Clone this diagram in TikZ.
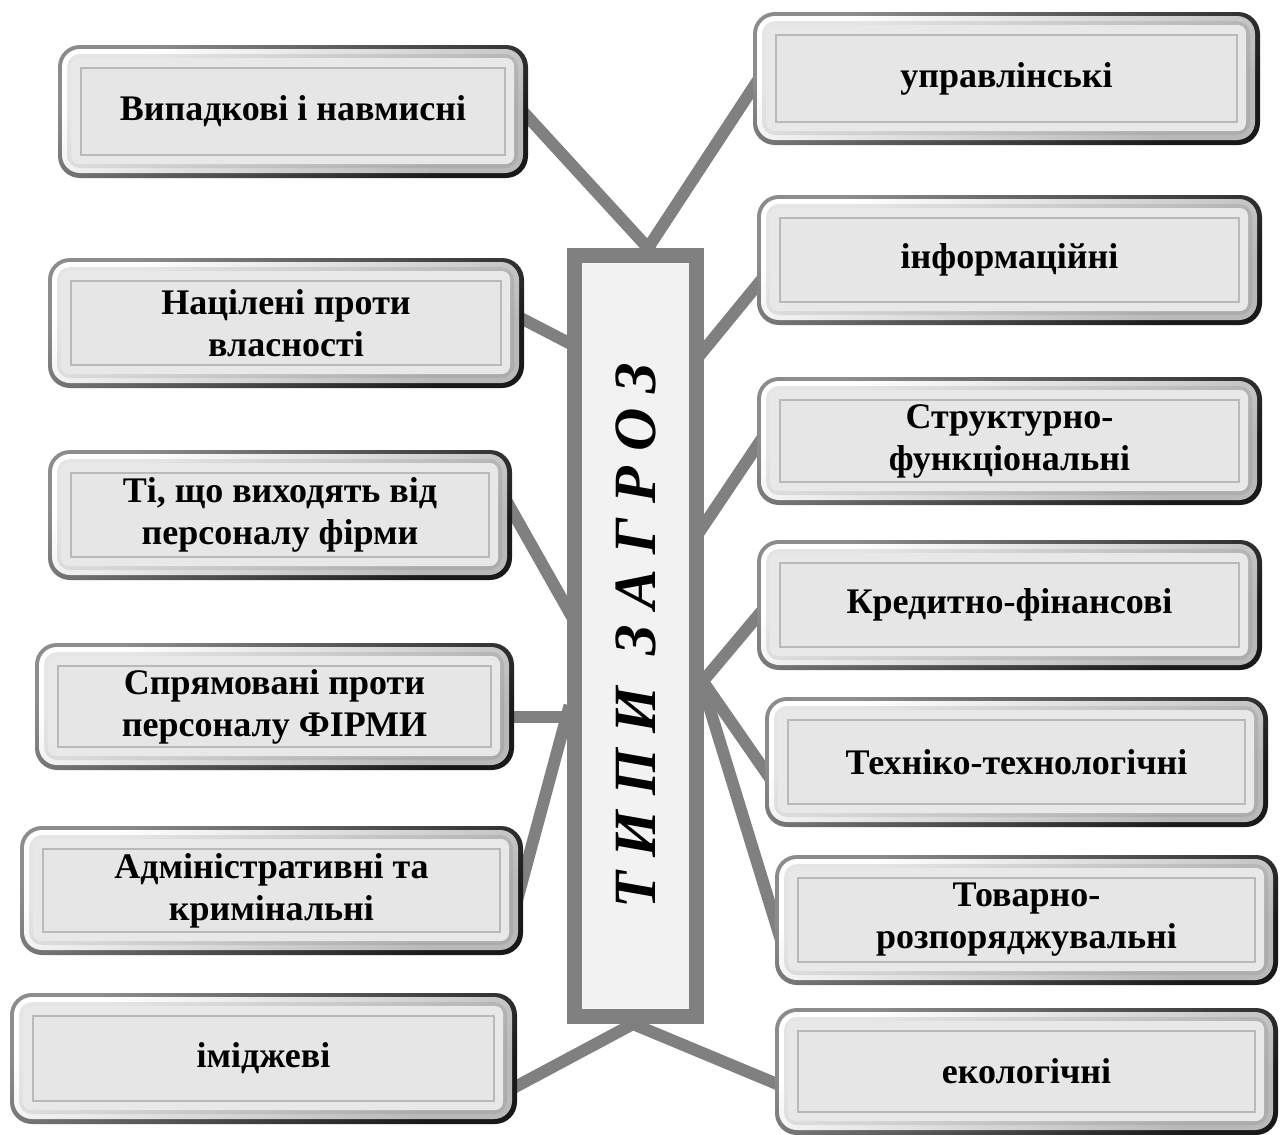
\documentclass[tikz,border=0pt]{standalone}
\usepackage{fontspec}
\usepackage{graphicx}
\setmainfont{Liberation Serif}
\usetikzlibrary{calc}
\pgfdeclarelayer{bg}
\pgfsetlayers{bg,main}
\definecolor{boxface}{HTML}{E8E8E8}
\definecolor{innerface}{HTML}{E6E6E6}
\definecolor{cface}{HTML}{F2F2F2}
\tikzset{
  tinner/.style={draw=gray!55, line width=1.2pt, fill=innerface, inner sep=0pt,
    align=center, font=\fontsize{36}{42}\selectfont\bfseries},
  cbox/.style={draw=gray, line width=15pt, fill=cface, inner sep=0pt,
    minimum width=122pt, minimum height=761pt},
  conn/.style={draw=gray, line width=12pt, shorten <=-10pt, shorten >=-10pt}
}
\newcommand\tbox[6]{%
  \shade[rounded corners=22pt, top color=gray!90, bottom color=black!90, shading angle=35] (#2,#3) rectangle (#4,#5);
  \shade[rounded corners=18pt, top color=white, bottom color=gray!55, shading angle=35] ({#2+4},{#3+4}) rectangle ({#4-5},{#5-5});
  \shade[rounded corners=13pt, top color=gray!20, bottom color=gray!65, shading angle=35] ({#2+9},{#3+9}) rectangle ({#4-10},{#5-10});
  \fill[rounded corners=8pt, boxface] ({#2+13},{#3+13}) rectangle ({#4-14},{#5-14});
  \node[tinner, minimum width={#4-#2-46}, minimum height={#5-#3-46}] (#1) at ({(#2+#4)/2},{(#3+#5)/2}) {#6};
}
\begin{document}
\begin{tikzpicture}[x=1pt,y=-1pt]
\begin{pgfonlayer}{bg}
\fill[white] (0,0) rectangle (1283,1135);
\end{pgfonlayer}
\useasboundingbox (0,0) rectangle (1283,1135);

\tbox{l1}{58}{45}{528}{178}{Випадкові і навмисні}
\tbox{l2}{48}{258}{524}{388}{Націлені проти\\власності}
\tbox{l3}{48}{450}{512}{580}{Ті, що виходять від\\персоналу фірми}
\tbox{l4}{35}{643}{514}{770}{Спрямовані проти\\персоналу ФІРМИ}
\tbox{l5}{20}{826}{523}{955}{Адміністративні та\\кримінальні}
\tbox{l6}{10}{993}{517}{1124}{іміджеві}
\tbox{r1}{753}{12}{1260}{145}{управлінські}
\tbox{r2}{757}{195}{1262}{325}{інформаційні}
\tbox{r3}{757}{377}{1262}{505}{Структурно-\\функціональні}
\tbox{r4}{757}{540}{1262}{670}{Кредитно-фінансові}
\tbox{r5}{765}{697}{1268}{827}{Техніко-технологічні}
\tbox{r6}{775}{855}{1278}{985}{Товарно-\\розпоряджувальні}
\tbox{r7}{775}{1008}{1278}{1135}{екологічні}

\node[cbox] (c) at (635.5,636) {\rotatebox{90}{\fontsize{60}{62}\selectfont\bfseries\itshape Т И П И\hspace{32pt}З А Г Р О З}};

\begin{pgfonlayer}{bg}
\draw[conn] ($(c.north)+(12.5,0)$) -- ($(l1.east)+(20,3)$);
\draw[conn] ($(c.north)+(12.5,0)$) -- ($(r1.west)+(-14,-3.5)$);
\draw[conn] ($(c.west)+(0,-294)$) -- ($(l2.east)+(19,-5)$);
\draw[conn] ($(c.east)+(0,-286)$) -- ($(r2.west)+(-18,20)$);
\draw[conn] ($(c.west)+(0,-28)$) -- ($(l3.east)+(18,-12)$);
\draw[conn] ($(c.east)+(0,-111)$) -- ($(r3.west)+(-15,-6)$);
\draw[conn] ($(c.west)+(0,81)$) -- ($(l4.east)+(14,10.5)$);
\draw[conn] ($(c.west)+(0,79)$) -- ($(l5.east)+(13,22.5)$);
\draw[conn] ($(c.east)+(0,44)$) -- ($(r4.west)+(-15,3)$);
\draw[conn] ($(c.east)+(0,47)$) -- ($(r5.west)+(-21,11)$);
\draw[conn] ($(c.east)+(0,54)$) -- ($(r6.west)+(-18,15)$);
\draw[conn] ($(c.south)+(-2.5,0)$) -- ($(l6.east)+(28,24.5)$);
\draw[conn] ($(c.south)+(-2.5,0)$) -- ($(r7.west)+(-18,13.5)$);
\end{pgfonlayer}
\end{tikzpicture}
\end{document}
